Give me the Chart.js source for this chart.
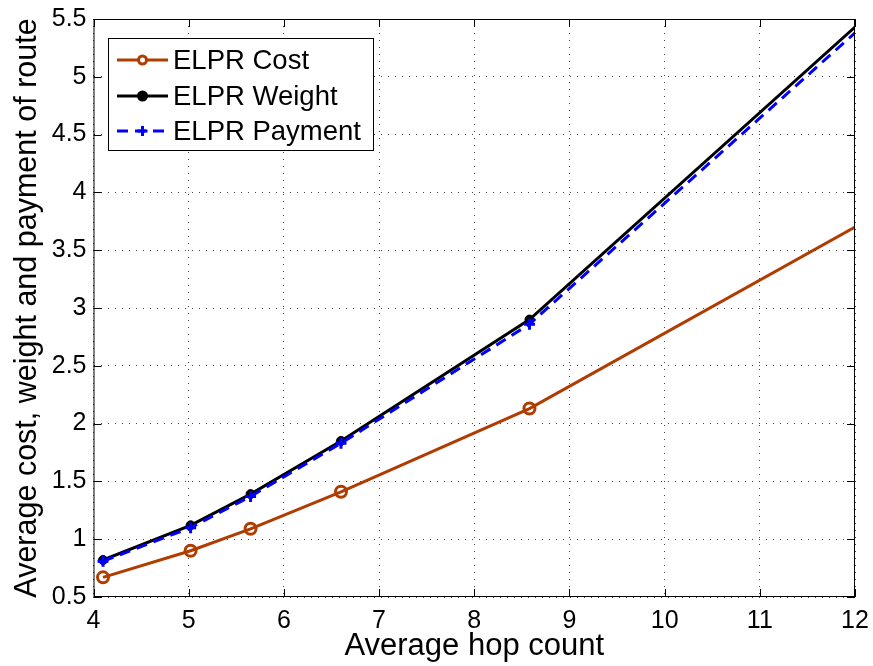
<!DOCTYPE html>
<html>
<head>
<meta charset="utf-8">
<script src="https://cdn.jsdelivr.net/npm/chart.js@4"></script>
<style>
    html, body { margin: 0; padding: 0; background: #fff; }
    #box { width: 873px; height: 666px; }
</style>
</head>
<body>
<div id="box"><canvas id="routeChart"></canvas></div>
<script>
// values
const hopCount = [4.1, 5.02, 5.65, 6.6, 8.58, 12];
const costValues = [0.67, 0.9, 1.09, 1.41, 2.13, 3.7];
const weightValues = [0.82, 1.12, 1.39, 1.85, 2.9, 5.43];
const paymentValues = [0.81, 1.1, 1.37, 1.83, 2.86, 5.38];
const xTicks = [4, 5, 6, 7, 8, 9, 10, 11, 12];
const yTicks = [0.5, 1, 1.5, 2, 2.5, 3, 3.5, 4, 4.5, 5, 5.5];
const seriesNames = ['ELPR Cost', 'ELPR Weight', 'ELPR Payment'];

const FONT = '"Liberation Sans", Arial, sans-serif';
const COST_COLOR = '#b03c00';

const toPoints = (ys) => hopCount.map((x, i) => ({ x: x, y: ys[i] }));
// last point sits on the right edge, no marker shown there
const markerSizes = (r) => hopCount.map((x, i) => i === hopCount.length - 1 ? 0 : r);

// matlab style box, inner ticks and legend
const matlabFrame = {
    id: 'matlabFrame',
    afterDraw(chart) {
        const ctx = chart.ctx;
        const a = chart.chartArea;
        const xs = chart.scales.x, ys = chart.scales.y;
        ctx.save();
        ctx.strokeStyle = '#000';
        ctx.lineWidth = 1;
        ctx.strokeRect(a.left + 0.5, a.top + 0.5, a.right - a.left - 1, a.bottom - a.top - 1);
        ctx.beginPath();
        xTicks.forEach(v => {
            const px = Math.round(xs.getPixelForValue(v)) + 0.5;
            ctx.moveTo(px, a.bottom); ctx.lineTo(px, a.bottom - 8);
            ctx.moveTo(px, a.top); ctx.lineTo(px, a.top + 8);
        });
        yTicks.forEach(v => {
            const py = Math.round(ys.getPixelForValue(v)) + 0.5;
            ctx.moveTo(a.left, py); ctx.lineTo(a.left + 8, py);
            ctx.moveTo(a.right, py); ctx.lineTo(a.right - 8, py);
        });
        ctx.stroke();

        // legend
        const lx = 108, ly = 38, lw = 265, lh = 112;
        ctx.fillStyle = '#fff';
        ctx.fillRect(lx, ly, lw, lh);
        ctx.strokeRect(lx + 0.5, ly + 0.5, lw, lh);
        const rows = [60, 96, 131];
        const dsOrder = ['cost', 'weight', 'payment'];
        rows.forEach((ry, i) => {
            const ds = chart.data.datasets.find(d => d.key === dsOrder[i]);
            ctx.strokeStyle = ds.borderColor;
            ctx.lineWidth = ds.borderWidth;
            ctx.setLineDash(ds.borderDash || []);
            ctx.beginPath();
            ctx.moveTo(117, ry); ctx.lineTo(168, ry);
            ctx.stroke();
            ctx.setLineDash([]);
            Chart.helpers.drawPoint(ctx, {
                pointStyle: ds.pointStyle,
                radius: ds.legendRadius,
                borderWidth: ds.pointBorderWidth
            }, 142.5, ry);
            ctx.fillStyle = '#000';
            ctx.font = '27.5px ' + FONT;
            ctx.textBaseline = 'middle';
            ctx.fillText(seriesNames[i], 173, ry + 1);
        });
        ctx.restore();
    }
};

new Chart(document.getElementById('routeChart'), {
    type: 'scatter',
    data: {
        datasets: [
            {
                key: 'payment',
                label: seriesNames[2],
                data: toPoints(paymentValues),
                showLine: true,
                borderColor: '#0000ff',
                backgroundColor: '#0000ff',
                borderWidth: 3,
                borderDash: [11, 7],
                pointStyle: 'cross',
                pointRadius: markerSizes(5.5),
                pointBorderWidth: 3,
                pointBorderColor: '#0000ff',
                legendRadius: 5,
                order: 0
            },
            {
                key: 'weight',
                label: seriesNames[1],
                data: toPoints(weightValues),
                showLine: true,
                borderColor: '#000',
                backgroundColor: '#000',
                borderWidth: 3,
                pointStyle: 'circle',
                pointRadius: markerSizes(4.5),
                pointBorderWidth: 1,
                pointBackgroundColor: '#000',
                pointBorderColor: '#000',
                legendRadius: 4,
                order: 1
            },
            {
                key: 'cost',
                label: seriesNames[0],
                data: toPoints(costValues),
                showLine: true,
                borderColor: COST_COLOR,
                backgroundColor: '#fff',
                borderWidth: 3,
                pointStyle: 'circle',
                pointRadius: markerSizes(5.5),
                pointBorderWidth: 3,
                pointBackgroundColor: 'rgba(255,255,255,0)',
                pointBorderColor: COST_COLOR,
                legendRadius: 4,
                order: 2
            }
        ]
    },
    options: {
        responsive: true,
        maintainAspectRatio: false,
        animation: false,
        layout: { padding: { top: 19, right: 18, left: 0, bottom: 0 } },
        plugins: {
            legend: { display: false },
            tooltip: { enabled: false }
        },
        scales: {
            x: {
                type: 'linear',
                min: 4,
                max: 12,
                afterFit: (s) => { s.height = 69; s.paddingLeft = 0; s.paddingRight = 0; },
                afterBuildTicks: (s) => { s.ticks = xTicks.map(v => ({ value: v })); },
                ticks: {
                    color: '#000',
                    padding: 9,
                    font: { family: FONT, size: 25 },
                    callback: (v) => String(v)
                },
                grid: { color: '#444', lineWidth: 1, tickLength: 0 },
                border: { display: false, dash: [1, 6] },
                title: {
                    display: true,
                    text: 'Average hop count',
                    color: '#000',
                    font: { family: FONT, size: 31 },
                    padding: { top: 0, bottom: 1 }
                }
            },
            y: {
                type: 'linear',
                min: 0.5,
                max: 5.5,
                afterFit: (s) => { s.width = 93.5; s.paddingTop = 0; s.paddingBottom = 0; },
                afterBuildTicks: (s) => { s.ticks = yTicks.map(v => ({ value: v })); },
                ticks: {
                    color: '#000',
                    padding: 7,
                    font: { family: FONT, size: 25 },
                    callback: (v) => String(v)
                },
                grid: { color: '#444', lineWidth: 1, tickLength: 0 },
                border: { display: false, dash: [1, 6] },
                title: {
                    display: true,
                    text: 'Average cost, weight and payment of route',
                    color: '#000',
                    font: { family: FONT, size: 30.5 },
                    padding: { top: 9, bottom: 0 }
                }
            }
        }
    },
    plugins: [matlabFrame]
});
</script>
</body>
</html>
